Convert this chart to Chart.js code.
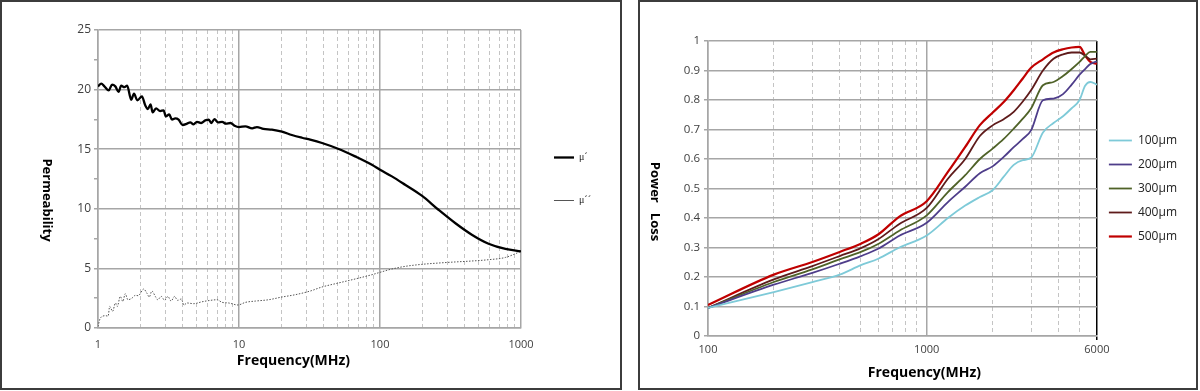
<!DOCTYPE html>
<html>
<head>
<meta charset="utf-8">
<script src="https://cdn.jsdelivr.net/npm/chart.js@4.4.1/dist/chart.umd.min.js"></script>
<style>
  body { margin: 0; background: #fff; }
  .box { position: absolute; top: 0; height: 390px; border: 2px solid #3c3c3c; box-sizing: border-box; background: #fff; }
  canvas { display: block; }
</style>
</head>
<body>
<div class="box" style="left:0;width:622px"><canvas id="perm" width="618" height="386"></canvas></div>
<div class="box" style="left:638px;width:560px"><canvas id="loss" width="556" height="386"></canvas></div>
<script>
// ---- permeability (left) ----
var muRealFreq = [1, 1.055, 1.11, 1.19, 1.257, 1.327, 1.4, 1.46, 1.54, 1.61,
  1.72, 1.8, 1.9, 2.05, 2.16, 2.26, 2.36, 2.44, 2.58, 2.76,
  2.92, 3.03, 3.2, 3.35, 3.53, 3.73, 3.98, 4.28, 4.51, 4.76,
  5.03, 5.39, 5.77, 6.09, 6.36, 6.7, 7.1, 7.6, 8.07, 8.7,
  9.3, 10, 11.1, 12.4, 13.4, 14.9, 17.1, 20.2, 23.7, 28,
  32, 38.8, 50.9, 66.6, 87.6, 100, 121.5, 150.7, 198, 260,
  341, 448, 589, 776, 1000];
var muReal = [20.27, 20.5, 20.27, 19.93, 20.41, 20.27, 19.82, 20.33, 20.2, 20.33,
  19.15, 19.66, 19.1, 19.43, 18.7, 18.37, 18.76, 18.09, 18.42, 18.2,
  18.26, 17.75, 17.92, 17.48, 17.58, 17.48, 17.03, 17.14, 17.25, 17.08,
  17.3, 17.2, 17.42, 17.48, 17.2, 17.53, 17.25, 17.3, 17.14, 17.2,
  16.97, 16.86, 16.92, 16.75, 16.86, 16.7, 16.64, 16.47, 16.19, 15.96,
  15.8, 15.52, 15.02, 14.4, 13.7, 13.28, 12.72, 12.02, 11.1, 9.92,
  8.81, 7.83, 7.07, 6.63, 6.43];
var muImagFreq = [1, 1.04, 1.13, 1.18, 1.21, 1.27, 1.33, 1.37, 1.44, 1.5,
  1.56, 1.63, 1.74, 1.84, 1.93, 2.11, 2.22, 2.31, 2.41, 2.55,
  2.65, 2.81, 2.97, 3.13, 3.3, 3.49, 3.67, 3.9, 4.07, 4.28,
  4.76, 5.47, 6.27, 6.98, 7.6, 8.43, 9.83, 11.1, 13.1, 16.2,
  20.2, 25, 32, 38.8, 50.9, 66.6, 87.6, 100, 121.5, 150.7,
  198, 260, 341, 448, 589, 776, 1000];
var muImag = [0.13, 0.84, 1.03, 1.0, 1.81, 1.4, 2.1, 1.81, 2.65, 2.23,
  2.88, 2.37, 2.5, 2.74, 2.71, 3.27, 2.93, 2.6, 3.1, 2.65,
  2.37, 2.65, 2.32, 2.65, 2.26, 2.65, 2.32, 2.43, 1.93, 2.1,
  2.04, 2.2, 2.32, 2.37, 2.15, 2.1, 1.93, 2.15, 2.26, 2.37,
  2.6, 2.79, 3.1, 3.44, 3.78, 4.11, 4.47, 4.67, 4.95, 5.17,
  5.34, 5.45, 5.54, 5.62, 5.73, 5.92, 6.43];
var permTicks = [1, 2, 3, 4, 5, 6, 7, 8, 9, 10, 20, 30, 40, 50, 60, 70, 80, 90,
  100, 200, 300, 400, 500, 600, 700, 800, 900, 1000];
var permLabels = [1, 10, 100, 1000];

// ---- power loss (right) ----
var lossFreq = [100, 200, 300, 400, 500, 600, 750, 1000, 1250, 1500, 1750, 2000,
  2250, 2500, 2750, 3000, 3400, 3800, 4200, 4600, 5000, 5300, 5600, 6000];
var loss100 = [0.095, 0.149, 0.183, 0.208, 0.24, 0.262, 0.3, 0.341, 0.4, 0.442, 0.471, 0.494,
  0.54, 0.58, 0.596, 0.604, 0.69, 0.722, 0.745, 0.772, 0.8, 0.848, 0.861, 0.852];
var loss200 = [0.095, 0.174, 0.214, 0.245, 0.271, 0.296, 0.34, 0.384, 0.454, 0.506, 0.552, 0.575,
  0.607, 0.64, 0.668, 0.697, 0.799, 0.805, 0.82, 0.852, 0.886, 0.905, 0.922, 0.931];
var loss300 = [0.095, 0.183, 0.226, 0.26, 0.285, 0.312, 0.357, 0.409, 0.488, 0.545, 0.6, 0.635,
  0.668, 0.703, 0.737, 0.771, 0.85, 0.861, 0.881, 0.905, 0.929, 0.949, 0.963, 0.963];
var loss400 = [0.095, 0.192, 0.237, 0.271, 0.298, 0.328, 0.38, 0.434, 0.533, 0.6, 0.678, 0.714,
  0.735, 0.76, 0.795, 0.833, 0.9, 0.94, 0.955, 0.961, 0.961, 0.95, 0.938, 0.94];
var loss500 = [0.105, 0.208, 0.251, 0.285, 0.313, 0.344, 0.405, 0.457, 0.556, 0.641, 0.715, 0.757,
  0.793, 0.833, 0.873, 0.909, 0.938, 0.961, 0.972, 0.978, 0.98, 0.951, 0.929, 0.923];
var lossNames = ['100µm', '200µm', '300µm', '400µm', '500µm'];
var lossColors = ['#7ecad8', '#4e3d8a', '#4f6228', '#5e1b1b', '#c00000'];
var lossTicks = [100, 200, 300, 400, 500, 600, 700, 800, 900, 1000, 2000, 3000, 4000, 5000, 6000];
var lossLabels = [100, 1000, 6000];

var GRID = '#a6a6a6';
var MINOR = '#c4c4c4';

function pairs(xs, ys) {
  return xs.map(function(x, i) { return {x: x, y: ys[i]}; });
}

// axis titles drawn by hand so the y title can read top to bottom
var axisTitles = {
  id: 'axisTitles',
  afterDraw: function(chart, args, opts) {
    var ctx = chart.ctx, a = chart.chartArea;
    ctx.save();
    ctx.fillStyle = '#000';
    ctx.textAlign = 'center';
    ctx.textBaseline = 'middle';
    ctx.font = 'bold 14px "Open Sans"';
    ctx.fillText(opts.x.text, (a.left + a.right) / 2 + opts.x.dx, a.bottom + opts.x.dy);
    ctx.font = 'bold 13px "Open Sans"';
    ctx.translate(a.left + opts.y.dx, (a.top + a.bottom) / 2 + opts.y.dy);
    ctx.rotate(Math.PI / 2);
    ctx.fillText(opts.y.text, 0, 0);
    ctx.restore();
  }
};

Chart.defaults.font.family = '"Open Sans", sans-serif';
Chart.defaults.color = '#404040';

new Chart(document.getElementById('perm'), {
  type: 'line',
  data: {
    datasets: [{
      label: 'μ´',
      data: pairs(muRealFreq, muReal),
      borderColor: '#000',
      borderWidth: 2.3,
      pointRadius: 0,
      cubicInterpolationMode: 'monotone'
    }, {
      label: 'μ´´',
      data: pairs(muImagFreq, muImag),
      borderColor: '#555',
      borderWidth: 1,
      borderDash: [1.5, 1.5],
      pointRadius: 0,
      cubicInterpolationMode: 'monotone'
    }]
  },
  plugins: [axisTitles],
  options: {
    responsive: false,
    animation: false,
    devicePixelRatio: 1,
    layout: { padding: { top: 28, right: 19, bottom: 0, left: 0 } },
    plugins: {
      legend: {
        position: 'right',
        fullSize: false,
        labels: {
          usePointStyle: true,
          pointStyle: 'line',
          pointStyleWidth: 20,
          padding: 33,
          color: '#222',
          font: { family: '"Liberation Serif", serif', size: 10 }
        }
      },
      tooltip: { enabled: false },
      axisTitles: {
        x: { text: 'Frequency(MHz)', dx: -16, dy: 33 },
        y: { text: 'Permeability', dx: -51, dy: 21 }
      }
    },
    scales: {
      x: {
        type: 'logarithmic',
        min: 1,
        max: 1000,
        afterBuildTicks: function(s) { s.ticks = permTicks.map(function(v) { return {value: v}; }); },
        afterFit: function(s) { s.height = 60; },
        ticks: {
          autoSkip: false,
          maxRotation: 0,
          padding: 6,
          font: { size: 11 },
          callback: function(v) { return permLabels.indexOf(v) >= 0 ? String(v) : ''; }
        },
        grid: {
          color: function(c) { return permLabels.indexOf(c.tick.value) >= 0 ? GRID : MINOR; },
          lineWidth: function(c) { return permLabels.indexOf(c.tick.value) >= 0 ? 1.5 : 1; },
          tickLength: 4,
          tickColor: 'transparent'
        },
        border: {
          color: GRID,
          width: 1.5,
          dash: function(c) { return (c.tick && permLabels.indexOf(c.tick.value) < 0) ? [4, 3] : []; }
        }
      },
      y: {
        min: 0,
        max: 25,
        afterFit: function(s) { s.width = 96; },
        ticks: {
          stepSize: 2.5,
          padding: 3,
          font: { size: 12 },
          callback: function(v) { return v % 5 === 0 ? String(v) : ''; }
        },
        grid: {
          color: function(c) { return c.tick.value % 5 === 0 ? GRID : 'transparent'; },
          lineWidth: 1.5,
          tickLength: 4,
          tickColor: GRID
        },
        border: { color: GRID, width: 1.5 }
      }
    }
  }
});

var lossSeries = [loss100, loss200, loss300, loss400, loss500];

new Chart(document.getElementById('loss'), {
  type: 'line',
  data: {
    datasets: lossSeries.map(function(vals, i) {
      return {
        label: lossNames[i],
        data: pairs(lossFreq, vals),
        borderColor: lossColors[i],
        borderWidth: i === 4 ? 2.2 : 1.8,
        pointRadius: 0,
        cubicInterpolationMode: 'monotone'
      };
    })
  },
  plugins: [axisTitles],
  options: {
    responsive: false,
    animation: false,
    devicePixelRatio: 1,
    layout: { padding: { top: 39, right: 9, bottom: 0, left: 0 } },
    plugins: {
      legend: {
        position: 'right',
        fullSize: false,
        labels: {
          usePointStyle: true,
          pointStyle: 'line',
          pointStyleWidth: 23,
          padding: 12,
          color: '#222',
          font: { size: 12 }
        }
      },
      tooltip: { enabled: false },
      axisTitles: {
        x: { text: 'Frequency(MHz)', dx: 22, dy: 37 },
        y: { text: 'Power   Loss', dx: -53, dy: 13 }
      }
    },
    scales: {
      x: {
        type: 'logarithmic',
        min: 100,
        max: 6000,
        afterBuildTicks: function(s) { s.ticks = lossTicks.map(function(v) { return {value: v}; }); },
        afterFit: function(s) { s.height = 52; },
        ticks: {
          autoSkip: false,
          maxRotation: 0,
          padding: 3,
          font: { size: 11 },
          callback: function(v) { return lossLabels.indexOf(v) >= 0 ? String(v) : ''; }
        },
        grid: {
          color: function(c) {
            if (c.tick.value === 6000) return '#000';
            return lossLabels.indexOf(c.tick.value) >= 0 ? GRID : MINOR;
          },
          lineWidth: function(c) { return lossLabels.indexOf(c.tick.value) >= 0 ? 1.5 : 1; },
          tickLength: 4,
          tickColor: function(c) { return c.tick.value === 6000 ? '#000' : 'transparent'; }
        },
        border: {
          color: GRID,
          width: 1.5,
          dash: function(c) { return (c.tick && lossLabels.indexOf(c.tick.value) < 0) ? [4, 3] : []; }
        }
      },
      y: {
        min: 0,
        max: 1,
        afterFit: function(s) { s.width = 68; },
        ticks: {
          stepSize: 0.1,
          padding: 4,
          font: { size: 11.5 },
          callback: function(v) { return String(Math.round(v * 10) / 10); }
        },
        grid: {
          color: GRID,
          lineWidth: 1.5,
          tickLength: 4,
          tickColor: GRID
        },
        border: { color: GRID, width: 1.5 }
      }
    }
  }
});
</script>
</body>
</html>
